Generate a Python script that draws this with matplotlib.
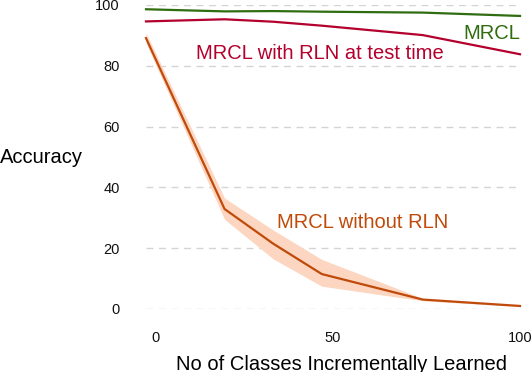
import matplotlib
matplotlib.use("Agg")
from matplotlib import pyplot as plt
import matplotlib.transforms as mtransforms

plt.rcParams['font.family'] = ['Liberation Sans', 'DejaVu Sans']

# classes learned
x_green = [0, 21, 34, 47, 74, 100]
acc_mrcl = [98.6, 97.9, 98.0, 97.8, 97.5, 96.4]

x_red = [0, 21, 34, 47, 74, 100]
acc_rln_test = [94.6, 95.3, 94.5, 93.2, 90.1, 83.8]

x_orange = [0, 21, 34, 47, 74, 100]
acc_no_rln = [89.1, 32.9, 21.5, 11.5, 3.1, 1.0]
acc_no_rln_lo = [87.5, 29.5, 16.5, 7.5, 2.7, 0.8]
acc_no_rln_hi = [90.8, 36.5, 26.0, 16.3, 3.5, 1.2]

yticks = [0, 20, 40, 60, 80, 100]
xticks = [0, 50, 100]

green = '#2f6d10'
red = '#b4002c'
orange = '#c04a0a'
band = '#fcd6c0'

fig = plt.figure(figsize=(5.32, 3.72), dpi=100)
ax = fig.add_axes([146/532, 1 - 309/372, (520-146)/532, (309-5)/372])

ax.fill_between(x_orange, acc_no_rln_lo, acc_no_rln_hi, color=band, lw=0)
ax.plot(x_orange, acc_no_rln, color=orange, lw=1.6)
ax.plot(x_red, acc_rln_test, color=red, lw=1.6)
ax.plot(x_green, acc_mrcl, color=green, lw=1.6)

ax.set_xlim(0, 100)
ax.set_ylim(0, 100)
ax.set_yticks(yticks)
ax.set_xticks(xticks)
ax.grid(axis='y', color='#d4d4d4', linestyle=(0, (5, 4)), lw=1)
ax.set_axisbelow(True)
for s in ax.spines.values():
    s.set_visible(False)
ax.tick_params(length=0, labelsize=10.5, colors='#111111')
ax.tick_params(axis='y', pad=19)
ax.tick_params(axis='x', pad=16)
# first x tick label sits a bit right of the axis start
lbl0 = ax.get_xticklabels()[0]
lbl0.set_transform(lbl0.get_transform() + mtransforms.ScaledTranslation(10/100, 0, fig.dpi_scale_trans))
for line in ax.lines:
    line.set_clip_on(False)

ax.text(100, 90.5, 'MRCL', color=green, fontsize=14.5, ha='right', va='center')
ax.text(46.5, 84.0, 'MRCL with RLN at test time', color=red, fontsize=14.5,
        ha='center', va='center')
ax.text(58, 28.3, 'MRCL without RLN', color=orange, fontsize=14.5,
        ha='center', va='center')

fig.text(0, 1 - 157/372, 'Accuracy', fontsize=14.5, ha='left', va='center')
fig.text(341/532, 1 - 364/372, 'No of Classes Incrementally Learned',
         fontsize=14.5, ha='center', va='center')

fig.savefig('out.png', dpi=100)
